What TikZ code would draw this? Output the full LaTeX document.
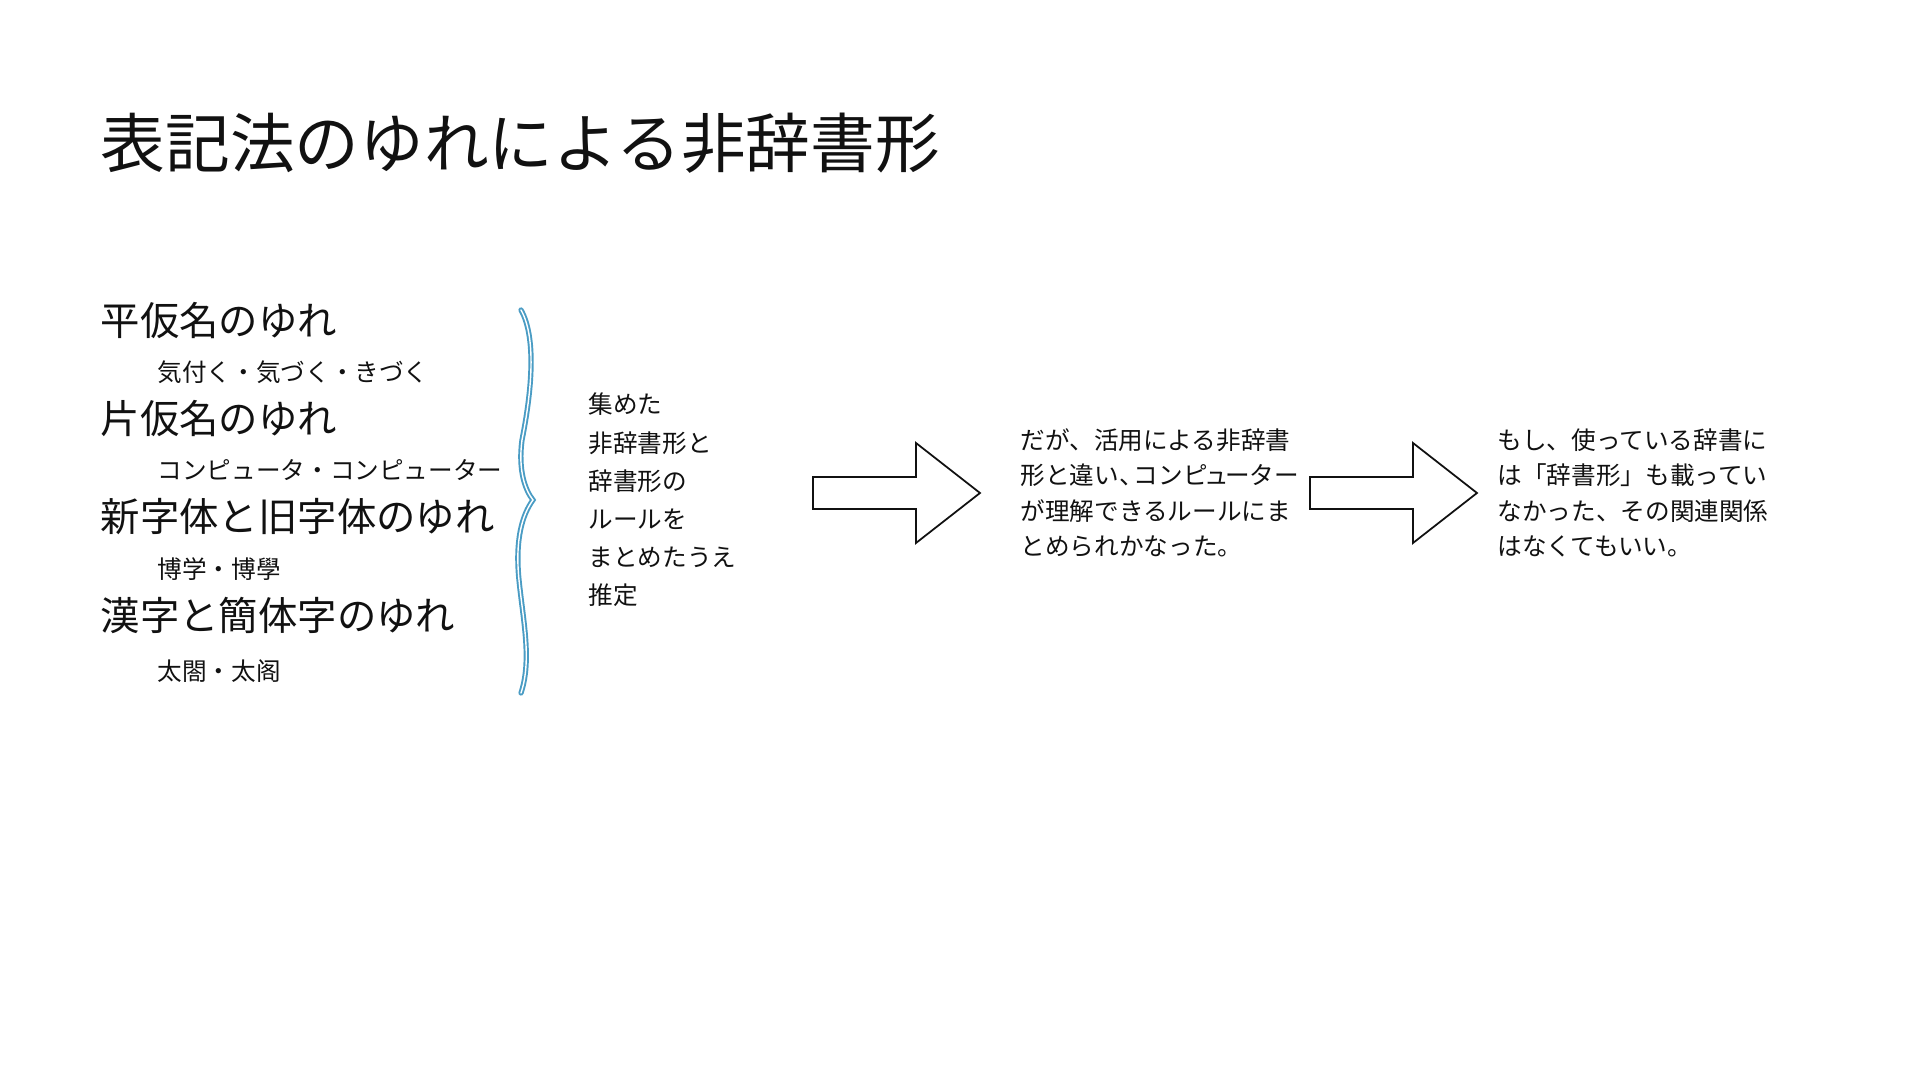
\documentclass[tikz,border=0pt]{standalone}
\usepackage{fontspec}
\newfontfamily\jpfont{Noto Sans CJK JP}
\usepackage{tikz}
\usetikzlibrary{positioning}
\definecolor{ink}{HTML}{111111}
\definecolor{wavy}{HTML}{4A9CC4}
\tikzset{
  headline/.style={anchor=west, inner sep=0pt, text=ink, font=\jpfont\fontsize{18.4}{22}\selectfont},
  kind/.style={anchor=west, inner sep=0pt, text=ink, font=\jpfont\fontsize{11.2}{13.4}\selectfont},
  sample/.style={anchor=west, inner sep=0pt, text=ink, font=\jpfont\fontsize{7}{8.4}\selectfont},
  note/.style={anchor=west, inner sep=0pt, text=ink, align=left, font=\jpfont\fontsize{7}{10.06}\selectfont},
  blockarrow/.style={draw=ink, line width=0.5pt, fill=white, line join=miter},
  bracket/.style={draw=wavy, line width=0.55pt, double=white, double distance=0.4pt, line cap=round},
}
\begin{document}
\begin{tikzpicture}[x=0.01cm, y=-0.01cm]
  \useasboundingbox (0,0) rectangle (1920,1080);
  % title
  \node[headline](title) at (100,143){表記法のゆれによる非辞書形};
  % kinds of variation
  \node[kind](hira) at (100,321){平仮名のゆれ};
  \node[sample](hiraex) at (157,372){気付く・気づく・きづく};
  \node[kind](kata) at (100,419){片仮名のゆれ};
  \node[sample](kataex) at (157,470){コンピュータ・コンピューター};
  \node[kind](jitai) at (100,517){新字体と旧字体のゆれ};
  \node[sample](jitaiex) at (157,569){博学・博學};
  \node[kind](kanji) at (100,615){漢字と簡体字のゆれ};
  \node[sample](kanjiex) at (157,671){太閤・太阁};
  % brace
  \draw[bracket] (521,310) .. controls (538,340) and (530,400) .. (522,440)
    .. controls (518,470) and (525,490) .. (533,500)
    .. controls (522,515) and (515,540) .. (519,580)
    .. controls (523,620) and (532,660) .. (521,693);
  % notes
  \node[note,font=\jpfont\fontsize{7}{10.86}\selectfont](rule) at (588,500){集めた\\非辞書形と\\辞書形の\\ルールを\\まとめたうえ\\推定};
  \node[note](but) at (1020,493){だが、活用による非辞書\\形と違い、\kern-.4emコンピ\kern-.15emュ\kern-.15emーター\\が理解できるルールにま\\とめられかなった。};
  \node[note](if) at (1497,493){もし、使っている辞書に\\は「辞書形」も載ってい\\なかった、その関連関係\\はなくてもいい。};
  % arrows
  \draw[blockarrow] (813,477) -- ++(103,0) -- ++(0,-34) -- ++(64,50) -- ++(-64,50) -- ++(0,-34) -- ++(-103,0) -- cycle;
  \draw[blockarrow] (1310,477) -- ++(103,0) -- ++(0,-34) -- ++(64,50) -- ++(-64,50) -- ++(0,-34) -- ++(-103,0) -- cycle;
\end{tikzpicture}
\end{document}
